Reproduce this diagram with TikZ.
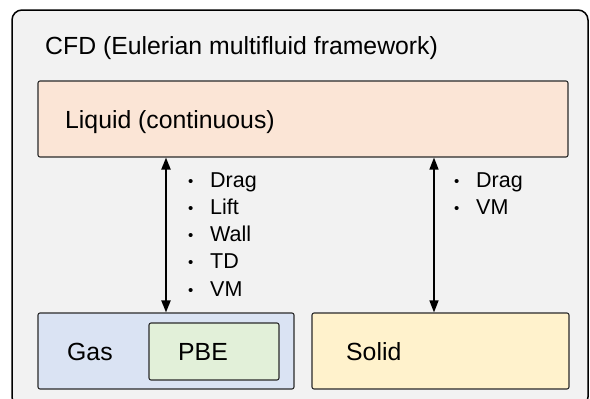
\documentclass[tikz,border=0pt]{standalone}
\usepackage{fontspec}
\setmainfont{Liberation Sans}
\usetikzlibrary{arrows.meta}
\definecolor{bgc}{HTML}{F2F2F2}
\definecolor{liqc}{HTML}{FBE5D6}
\definecolor{gasc}{HTML}{DAE3F3}
\definecolor{pbec}{HTML}{E2F0D9}
\definecolor{solc}{HTML}{FFF2CC}
\definecolor{edgec}{HTML}{2A2A2A}
\tikzset{
  box/.style={draw=edgec, line width=1.1pt, rounded corners=2pt, inner sep=0pt},
  lbl/.style={anchor=base west, inner sep=0pt, font=\fontsize{24.8}{28}\selectfont},
  item/.style={anchor=base west, inner sep=0pt, font=\fontsize{21.5}{27.3}\selectfont},
  link/.style={{Triangle[length=12pt,width=9pt]}-{Triangle[length=12pt,width=9pt]}, black},
}
\newcommand{\bul}{\makebox[22pt][l]{\raisebox{1pt}{\fontsize{15}{15}\selectfont\textbullet}}}
\begin{document}
\begin{tikzpicture}[x=1pt,y=-1pt]
\useasboundingbox (0,0) rectangle (590,399);
\begin{scope}
\clip (0,0) rectangle (590,399);
\draw[fill=bgc, line width=1.5pt, rounded corners=10pt] (12,10) rectangle (588,407);
\end{scope}
\node[lbl] (title) at (45,54) {CFD (Eulerian multifluid framework)};
\node[box, fill=liqc, minimum width=530pt, minimum height=76pt] (liquid) at (303,119) {};
\node[lbl] (liqt) at (65,128) {Liquid (continuous)};
\node[box, fill=gasc, minimum width=256pt, minimum height=76pt] (gas) at (166,351) {};
\node[box, fill=pbec, minimum width=130pt, minimum height=57pt] (pbe) at (214,351.5) {};
\node[lbl] (gast) at (67,360) {Gas};
\node[lbl] (pbet) at (178,360) {PBE};
\node[box, fill=solc, minimum width=257pt, minimum height=76pt] (solid) at (440.5,351) {};
\node[lbl] (solt) at (346,360) {Solid};
\coordinate (aL) at (166,0);
\coordinate (aR) at (434,0);
\draw[link, line width=2pt] (aL |- liquid.south) -- (aL |- gas.north);
\draw[link, line width=1.4pt] (aR |- liquid.south) -- (aR |- solid.north);
\node[item] (l1) at (188,187) {\bul Drag};
\node[item] (l2) at (188,214.3) {\bul Lift};
\node[item] (l3) at (188,241.6) {\bul Wall};
\node[item] (l4) at (188,268.9) {\bul TD};
\node[item] (l5) at (188,296.2) {\bul VM};
\node[item] (r1) at (454,187) {\bul Drag};
\node[item] (r2) at (454,214.3) {\bul VM};
\end{tikzpicture}
\end{document}
